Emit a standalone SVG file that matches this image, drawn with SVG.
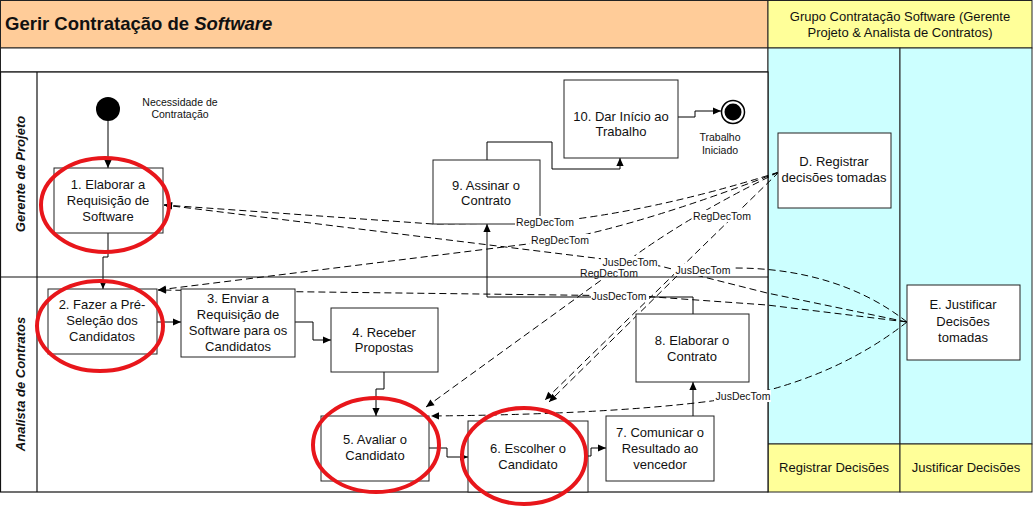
<svg xmlns="http://www.w3.org/2000/svg" width="1033" height="507" viewBox="0 0 1033 507">
<defs>
<marker id="arr" viewBox="0 0 10 10" refX="10" refY="5" markerWidth="9" markerHeight="8" markerUnits="userSpaceOnUse" orient="auto"><path d="M0,0.5 L10,5 L0,9.5 z" fill="#000"/></marker>
<style>
text{font-family:"Liberation Sans",Arial,sans-serif;fill:#111}
.node rect{fill:#fff;stroke:#222;stroke-width:1}
.nt{font-size:13px;text-anchor:middle}
.sm{font-size:10.5px;text-anchor:middle}
.flow{fill:none;stroke:#000;stroke-width:1;marker-end:url(#arr)}
.assocA{fill:none;stroke:#000;stroke-width:1;stroke-dasharray:7,4;marker-end:url(#arr)}
.lbl{font-size:10.5px;text-anchor:middle}
.lb{fill:#fff}
.ring{fill:none;stroke:#e8161b;stroke-width:4}
.ln{stroke:#111;stroke-width:1.2;fill:none}
</style>
</defs>
<rect width="1033" height="507" fill="#fff"/>
<g id="pool">
<rect x="0.5" y="0.5" width="767.5" height="47.5" fill="#ffcc99" stroke="#222"/>
<rect x="768" y="0.5" width="264" height="47.5" fill="#ffff99" stroke="#222"/>
<rect x="0.5" y="48" width="767.5" height="24" fill="#fff" stroke="#222"/>
<rect x="768" y="48" width="132" height="396" fill="#ccffff" stroke="#222"/>
<rect x="900" y="48" width="132" height="396" fill="#ccffff" stroke="#222"/>
<rect x="768" y="444" width="132" height="48" fill="#ffff99" stroke="#222"/>
<rect x="900" y="444" width="132" height="48" fill="#ffff99" stroke="#222"/>
<rect x="0.5" y="72" width="767.5" height="420" fill="#fff" stroke="#111" stroke-width="1.2"/>
<line class="ln" x1="37" y1="72" x2="37" y2="492"/>
<text x="5" y="30" font-size="18.5" font-weight="bold">Gerir Contratação de <tspan font-style="italic">Software</tspan></text>
<text x="900" y="21" font-size="13" text-anchor="middle">Grupo Contratação Software (Gerente</text>
<text x="900" y="37" font-size="13" text-anchor="middle">Projeto &amp; Analista de Contratos)</text>
<text x="834" y="472" font-size="13" text-anchor="middle">Registrar Decisões</text>
<text x="966" y="472" font-size="13" text-anchor="middle">Justificar Decisões</text>
<text transform="translate(25,174) rotate(-90)" font-size="13" font-weight="bold" font-style="italic" text-anchor="middle">Gerente de Projeto</text>
<text transform="translate(25,384) rotate(-90)" font-size="13" font-weight="bold" font-style="italic" text-anchor="middle">Analista de Contratos</text>
</g>
<g id="connectors">
<path class="flow" d="M108,121 V168"/>
<path class="flow" d="M108,233 V257 H103 V289"/>
<path class="flow" d="M157,322 H181"/>
<path class="flow" d="M295,322 H313 V340 H331"/>
<path class="flow" d="M384,372 V389 H376 V416"/>
<path class="flow" d="M429,448 H447 V457 H468"/>
<path class="flow" d="M588,456 H591 V448 H606"/>
<path class="flow" d="M693,416 V382"/>
<path class="flow" d="M693,314 V297 H487 V224"/>
<path class="flow" d="M487,160 V142 H552 V169 H620 V158"/>
<path class="flow" d="M678,117 H695 V111 H721"/>
<path class="assocA" d="M779,172 Q650,213 540,223 L433,224 L164,205"/>
<path class="assocA" d="M779,172 Q650,222 560,240 L158,290"/>
<path class="assocA" d="M779,172 Q700,210 640,252 L426,407"/>
<path class="assocA" d="M779,172 L545,400"/>
<path class="assocA" d="M907,322 C860,285 800,268 735,268 L678,275 L549,402"/>
<path class="assocA" d="M907,322 L767,293 L660,266 L164,205"/>
<path class="assocA" d="M907,322 L767,305 L640,296 L158,290"/>
<path class="assocA" d="M907,322 Q840,375 745,396 Q640,414 431,416"/>
</g>
<g id="start">
<circle cx="108" cy="109" r="12" fill="#000"/>
<text class="sm" x="180" y="106">Necessidade de</text>
<text class="sm" x="180" y="118">Contratação</text>
</g>
<g id="end">
<circle cx="733" cy="112" r="11.5" fill="#fff" stroke="#000" stroke-width="1.5"/>
<circle cx="733" cy="112" r="8.5" fill="#000"/>
<text class="sm" x="720" y="141">Trabalho</text>
<text class="sm" x="720" y="154">Iniciado</text>
</g>
<g id="n1" class="node"><rect x="54" y="168" width="109" height="65"/>
<text class="nt" x="108" y="189">1. Elaborar a</text><text class="nt" x="108" y="205">Requisição de</text><text class="nt" x="108" y="221">Software</text></g>
<g id="n2" class="node"><rect x="48" y="289" width="109" height="65"/>
<text class="nt" x="102" y="309">2. Fazer a Pré-</text><text class="nt" x="102" y="325">Seleção dos</text><text class="nt" x="102" y="341">Candidatos</text></g>
<g id="n3" class="node"><rect x="181" y="289" width="114" height="68"/>
<text class="nt" x="238" y="303">3. Enviar a</text><text class="nt" x="238" y="319">Requisição de</text><text class="nt" x="238" y="335">Software para os</text><text class="nt" x="238" y="351">Candidatos</text></g>
<g id="n4" class="node"><rect x="331" y="308" width="107" height="64"/>
<text class="nt" x="384" y="337">4. Receber</text><text class="nt" x="384" y="352">Propostas</text></g>
<g id="n5" class="node"><rect x="321" y="416" width="108" height="65"/>
<text class="nt" x="375" y="444">5. Avaliar o</text><text class="nt" x="375" y="460">Candidato</text></g>
<g id="n6" class="node"><rect x="468" y="421" width="120" height="71"/>
<text class="nt" x="528" y="453">6. Escolher o</text><text class="nt" x="528" y="469">Candidato</text></g>
<g id="n7" class="node"><rect x="606" y="416" width="108" height="65"/>
<text class="nt" x="660" y="437">7. Comunicar o</text><text class="nt" x="660" y="453">Resultado ao</text><text class="nt" x="660" y="469">vencedor</text></g>
<g id="n8" class="node"><rect x="636" y="314" width="113" height="68"/>
<text class="nt" x="692" y="345">8. Elaborar o</text><text class="nt" x="692" y="361">Contrato</text></g>
<g id="n9" class="node"><rect x="433" y="160" width="107" height="64"/>
<text class="nt" x="486" y="190">9. Assinar o</text><text class="nt" x="486" y="205">Contrato</text></g>
<g id="n10" class="node"><rect x="564" y="80" width="114" height="78"/>
<text class="nt" x="621" y="121">10. Dar Início ao</text><text class="nt" x="621" y="136">Trabalho</text></g>
<g id="nD" class="node"><rect x="778" y="133" width="113" height="75"/>
<text class="nt" x="834" y="166">D. Registrar</text><text class="nt" x="834" y="182">decisões tomadas</text></g>
<g id="nE" class="node"><rect x="907" y="285" width="113" height="75"/>
<text class="nt" x="963" y="309">E. Justificar</text><text class="nt" x="963" y="326">Decisões</text><text class="nt" x="963" y="342">tomadas</text></g>
<g id="labels">
<rect class="lb" x="515" y="216" width="61" height="12"/><text class="lbl" x="545" y="226">RegDecTom</text>
<rect class="lb" x="530" y="234" width="60" height="12"/><text class="lbl" x="560" y="244">RegDecTom</text>
<rect class="lb" x="692" y="210" width="61" height="12"/><text class="lbl" x="722" y="220">RegDecTom</text>
<rect class="lb" x="579" y="267" width="60" height="12"/><text class="lbl" x="609" y="277">RegDecTom</text>
<rect class="lb" x="601" y="256" width="57" height="12"/><text class="lbl" x="630" y="266">JusDecTom</text>
<rect class="lb" x="674" y="264" width="59" height="12"/><text class="lbl" x="703" y="274">JusDecTom</text>
<rect class="lb" x="591" y="290" width="58" height="12"/><text class="lbl" x="619" y="300">JusDecTom</text>
<rect class="lb" x="714" y="390" width="57" height="12"/><text class="lbl" x="743" y="400">JusDecTom</text>
<line class="ln" x1="0" y1="277" x2="768" y2="277"/>
</g>
<g id="highlights">
<ellipse class="ring" cx="105" cy="205" rx="64" ry="47"/>
<ellipse class="ring" cx="100" cy="326" rx="63" ry="45"/>
<ellipse class="ring" cx="376" cy="445" rx="63" ry="47"/>
<ellipse class="ring" cx="524" cy="456" rx="62" ry="48"/>
</g>
</svg>
